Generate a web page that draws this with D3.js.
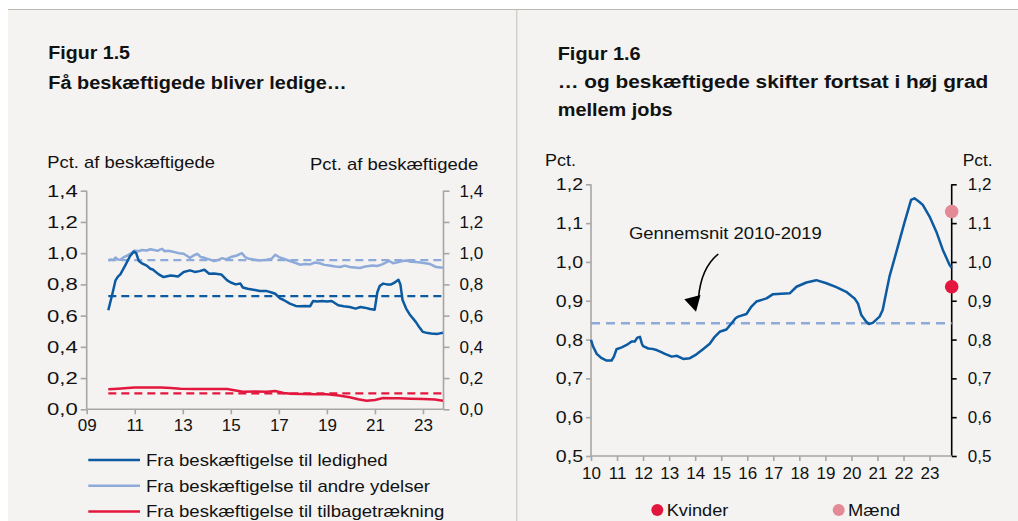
<!DOCTYPE html>
<html><head><meta charset="utf-8">
<script src="https://cdn.jsdelivr.net/npm/d3@7"></script>
<style>
html,body{margin:0;padding:0;background:#fff;}
svg{display:block;font-family:"Liberation Sans",Arial,sans-serif;}
</style></head><body>
<svg id="c" width="1018" height="521"></svg>
<script>
// ---------- DATA ----------
// Figur 1.5 (decimal year, pct. of employed)
const ledighedT = [2009.9,2010.07,2010.2,2010.3,2010.4,2010.6,2010.8,2010.96,2011.06,2011.17,2011.3,2011.5,2011.65,2011.75,2012.0,2012.2,2012.5,2012.6,2012.8,2013.04,2013.3,2013.5,2013.7,2013.9,2014.1,2014.3,2014.6,2014.85,2015.0,2015.2,2015.4,2015.5,2015.7,2015.94,2016.2,2016.5,2016.7,2016.85,2017.05,2017.2,2017.46,2017.7,2017.88,2018.1,2018.3,2018.43,2018.6,2018.8,2019.0,2019.2,2019.47,2019.7,2019.95,2020.2,2020.4,2020.57,2020.8,2020.99,2021.1,2021.2,2021.34,2021.5,2021.68,2021.85,2021.98,2022.06,2022.15,2022.3,2022.44,2022.7,2022.85,2022.99,2023.2,2023.34,2023.6,2023.83];
const ledighedV = [0.634,0.74,0.826,0.85,0.864,0.92,0.98,1.01,1.0,0.95,0.935,0.92,0.9,0.895,0.864,0.847,0.857,0.855,0.85,0.879,0.89,0.88,0.885,0.894,0.868,0.87,0.864,0.826,0.812,0.80,0.805,0.78,0.772,0.766,0.758,0.757,0.748,0.74,0.71,0.70,0.677,0.662,0.66,0.662,0.66,0.694,0.69,0.693,0.69,0.694,0.666,0.66,0.655,0.645,0.655,0.651,0.642,0.638,0.75,0.79,0.805,0.80,0.80,0.815,0.83,0.80,0.70,0.645,0.609,0.56,0.525,0.496,0.488,0.485,0.483,0.49];
const ydelserT = [2009.9,2010.0,2010.1,2010.2,2010.3,2010.4,2010.55,2010.7,2010.85,2011.0,2011.15,2011.3,2011.5,2011.65,2011.8,2011.95,2012.05,2012.14,2012.25,2012.4,2012.55,2012.7,2012.85,2013.04,2013.2,2013.3,2013.45,2013.6,2013.75,2013.9,2014.1,2014.3,2014.5,2014.65,2014.8,2015.0,2015.25,2015.46,2015.6,2015.75,2016.0,2016.2,2016.5,2016.7,2016.85,2017.0,2017.2,2017.45,2017.65,2017.88,2018.1,2018.3,2018.5,2018.7,2018.9,2019.1,2019.35,2019.55,2019.75,2019.95,2020.15,2020.37,2020.6,2020.9,2021.1,2021.3,2021.45,2021.6,2021.75,2021.9,2022.1,2022.3,2022.5,2022.7,2022.9,2023.1,2023.3,2023.55,2023.83];
const ydelserV = [0.953,0.96,0.955,0.972,0.96,0.958,0.975,0.985,1.0,1.017,1.012,1.02,1.017,1.025,1.02,1.015,1.022,1.028,1.012,1.015,1.01,1.005,1.0,0.996,0.98,0.97,0.985,0.996,0.975,0.97,0.96,0.95,0.958,0.968,0.96,0.975,0.985,1.0,0.975,0.964,0.958,0.953,0.958,0.964,0.99,0.975,0.964,0.95,0.94,0.926,0.93,0.928,0.94,0.935,0.925,0.921,0.915,0.911,0.92,0.911,0.908,0.905,0.915,0.921,0.918,0.928,0.94,0.95,0.936,0.94,0.948,0.953,0.945,0.943,0.94,0.936,0.93,0.911,0.907];
const tilbageT = [2009.9,2010.3,2010.7,2011.0,2011.5,2012.1,2012.5,2012.9,2013.5,2014.2,2014.85,2015.2,2015.5,2016.0,2016.5,2016.85,2017.2,2017.5,2018.0,2018.5,2019.0,2019.5,2019.95,2020.3,2020.65,2021.0,2021.34,2021.7,2022.0,2022.5,2023.0,2023.5,2023.83];
const tilbageV = [0.128,0.132,0.137,0.14,0.14,0.14,0.136,0.132,0.13,0.13,0.13,0.12,0.112,0.114,0.112,0.117,0.105,0.099,0.098,0.097,0.096,0.088,0.077,0.064,0.055,0.06,0.072,0.071,0.07,0.068,0.066,0.062,0.055];
const avg15Names = ["ledighed","ydelser","tilbage"];
const avg15Values = [0.725,0.955,0.102];
const avg15Period = [2009.9,2023.85];
const xTicks15 = [2009,2011,2013,2015,2017,2019,2021,2023];
const yTicks15 = [0,0.2,0.4,0.6,0.8,1.0,1.2,1.4];
const legend15 = ["Fra beskæftigelse til ledighed","Fra beskæftigelse til andre ydelser","Fra beskæftigelse til tilbagetrækning"];

// Figur 1.6
const jobT = [2010.0,2010.08,2010.22,2010.41,2010.6,2010.79,2010.88,2010.98,2011.18,2011.37,2011.56,2011.68,2011.78,2011.88,2011.95,2012.0,2012.2,2012.35,2012.52,2012.68,2012.84,2013.1,2013.3,2013.54,2013.8,2014.05,2014.3,2014.56,2014.75,2014.94,2015.2,2015.4,2015.55,2015.65,2015.97,2016.16,2016.35,2016.74,2016.99,2017.3,2017.63,2017.89,2018.27,2018.65,2019.04,2019.42,2019.8,2020.0,2020.12,2020.25,2020.38,2020.57,2020.67,2020.82,2021.08,2021.2,2021.33,2021.46,2021.71,2022.03,2022.29,2022.42,2022.6,2022.74,2023.0,2023.26,2023.51,2023.77,2023.85];
const jobV = [0.799,0.782,0.763,0.752,0.746,0.746,0.756,0.775,0.78,0.786,0.795,0.795,0.805,0.807,0.79,0.783,0.777,0.776,0.773,0.768,0.763,0.756,0.758,0.75,0.752,0.762,0.775,0.789,0.807,0.82,0.826,0.842,0.855,0.859,0.866,0.885,0.898,0.906,0.917,0.918,0.919,0.936,0.947,0.953,0.945,0.935,0.923,0.912,0.906,0.893,0.863,0.846,0.84,0.843,0.859,0.876,0.919,0.962,1.022,1.1,1.16,1.164,1.155,1.147,1.117,1.078,1.031,0.992,0.985];
const avg16 = 0.842;
const avg16Period = [2010,2023.85];
const dotNames = ["Kvinder","Mænd"];
const dotValues = [0.936,1.13];
const xTicks16 = [2010,2011,2012,2013,2014,2015,2016,2017,2018,2019,2020,2021,2022,2023];
const yTicks16 = [0.5,0.6,0.7,0.8,0.9,1.0,1.1,1.2];

// ---------- STYLE ----------
const C = {bg:"#f4f3f1", dark:"#0b5aa2", light:"#8eaad9", red:"#e3173e", pink:"#e38a96", axis:"#a6a6a6", text:"#111"};
const svg = d3.select("#c");
const fmt = d3.format(".1f");
const comma = v => fmt(v).replace(".", ",");

svg.append("rect").attr("x",0).attr("y",0).attr("width",1018).attr("height",521).attr("fill","#fff");
svg.append("rect").attr("x",8).attr("y",9.5).attr("width",1010).attr("height",512).attr("fill",C.bg);
svg.append("line").attr("x1",8).attr("x2",1018).attr("y1",9.5).attr("y2",9.5).attr("stroke","#bdb9b4").attr("stroke-width",1);
svg.append("line").attr("x1",516.8).attr("x2",516.8).attr("y1",9.5).attr("y2",521).attr("stroke","#c3bfba").attr("stroke-width",1);

function txt(x,y,s,opt={}){
  const t = svg.append("text").attr("x",x).attr("y",y).text(s)
    .attr("font-size",opt.size||17).attr("fill",C.text)
    .attr("font-weight",opt.bold?"bold":"normal")
    .attr("text-anchor",opt.anchor||"start");
  if(opt.len){ t.attr("textLength",opt.len).attr("lengthAdjust","spacingAndGlyphs"); }
  return t;
}
function stretch(sel, sx){
  sel.each(function(){
    const el = d3.select(this);
    const x = +el.attr("x")||0;
    el.attr("transform",`translate(${x},0) scale(${sx},1) translate(${-x},0)`);
  });
}

// ---------- FIGUR 1.5 ----------
txt(48.3,59.3,"Figur 1.5",{bold:true,size:18,len:81.7});
txt(48.3,89.3,"Få beskæftigede bliver ledige…",{bold:true,size:18,len:298.4});
txt(47.3,168.3,"Pct. af beskæftigede",{len:167.7});
txt(310,170,"Pct. af beskæftigede",{len:168.3});

const x15 = d3.scaleLinear().domain([2009,2023.855]).range([86.7,443.5]);
const y15 = d3.scaleLinear().domain([0,1.4]).range([409.3,190.7]);

const axL = svg.append("g").attr("transform","translate(86.7,0)")
  .call(d3.axisLeft(y15).tickValues(yTicks15).tickFormat(comma).tickSize(6).tickPadding(3));
const axR = svg.append("g").attr("transform","translate(443.5,0)")
  .call(d3.axisRight(y15).tickValues(yTicks15).tickFormat(comma).tickSize(6).tickPadding(10));
const axB = svg.append("g").attr("transform","translate(0,409.3)")
  .call(d3.axisBottom(x15).tickValues(xTicks15).tickFormat(d=>d3.format("02d")(d%100)).tickSize(5).tickPadding(5));
[axL,axR,axB].forEach(a=>{
  a.select(".domain").attr("stroke",C.axis).attr("stroke-width",1.6);
  a.selectAll(".tick line").attr("stroke",C.axis).attr("stroke-width",1.6);
  a.selectAll("text").attr("font-size",17).attr("fill",C.text).attr("font-family","Liberation Sans, Arial, sans-serif");
});
axL.select(".domain").attr("d","M0,409.3V190.7");
axR.select(".domain").attr("d","M0,409.3V190.7");
axB.select(".domain").attr("d","M86.7,0H443.5");
stretch(axL.selectAll("text"),1.3);

const line15 = d3.line().x(d=>x15(d[0])).y(d=>y15(d[1]));
const avgColors = {ledighed:C.dark, ydelser:C.light, tilbage:C.red};
avg15Names.forEach((n,i)=>{
  svg.append("path").attr("d",line15(avg15Period.map(t=>[t,avg15Values[i]])))
    .attr("fill","none").attr("stroke",avgColors[n]).attr("stroke-width",2.3).attr("stroke-dasharray","8,5");
});
svg.append("path").attr("d",line15(tilbageT.map((t,i)=>[t,tilbageV[i]]))).attr("fill","none").attr("stroke",C.red).attr("stroke-width",2.5);
svg.append("path").attr("d",line15(ydelserT.map((t,i)=>[t,ydelserV[i]]))).attr("fill","none").attr("stroke",C.light).attr("stroke-width",2.5).attr("stroke-linejoin","round");
svg.append("path").attr("d",line15(ledighedT.map((t,i)=>[t,ledighedV[i]]))).attr("fill","none").attr("stroke",C.dark).attr("stroke-width",2.5).attr("stroke-linejoin","round");

const legCols = [C.dark,C.light,C.red];
const legLens = [241.7,284,298.3];
legend15.forEach((s,i)=>{
  const y = 460 + i*25.7;
  svg.append("line").attr("x1",88.3).attr("x2",140).attr("y1",y).attr("y2",y).attr("stroke",legCols[i]).attr("stroke-width",2.5);
  txt(146,y+6,s,{len:legLens[i]});
});

// ---------- FIGUR 1.6 ----------
txt(557.7,60,"Figur 1.6",{bold:true,size:18,len:83});
txt(557.7,88.3,"… og beskæftigede skifter fortsat i høj grad",{bold:true,size:18,len:430.6});
txt(557.7,116,"mellem jobs",{bold:true,size:18,len:115});
txt(545,166,"Pct.",{len:31});
txt(992.7,166,"Pct.",{anchor:"end",len:30});

const x16 = d3.scaleLinear().domain([2010,2023.85]).range([591,951.7]);
const y16 = d3.scaleLinear().domain([0.5,1.2]).range([456,184.3]);

const bL = svg.append("g").attr("transform","translate(591,0)")
  .call(d3.axisLeft(y16).tickValues(yTicks16).tickFormat(comma).tickSize(5).tickPadding(3));
const bR = svg.append("g").attr("transform","translate(951.7,0)")
  .call(d3.axisRight(y16).tickValues(yTicks16).tickFormat(comma).tickSize(5).tickPadding(11));
const bB = svg.append("g").attr("transform","translate(0,456)")
  .call(d3.axisBottom(x16).tickValues(xTicks16).tickFormat(d=>String(d%100)).tickSize(5).tickPadding(6));
[bL,bB].forEach(a=>{
  a.select(".domain").attr("stroke",C.axis).attr("stroke-width",1.6);
  a.selectAll(".tick line").attr("stroke",C.axis).attr("stroke-width",1.6);
});
bR.select(".domain").attr("stroke","#000").attr("stroke-width",1.6);
bR.selectAll(".tick line").attr("stroke","#000").attr("stroke-width",1.6);
[bL,bR,bB].forEach(a=>a.selectAll("text").attr("font-size",17).attr("fill",C.text).attr("font-family","Liberation Sans, Arial, sans-serif"));
bL.select(".domain").attr("d","M0,456V184.3");
bR.select(".domain").attr("d","M0,456V184.3");
bB.select(".domain").attr("d","M591,0H951.7");
stretch(bL.selectAll("text"),1.15);

const line16 = d3.line().x(d=>x16(d[0])).y(d=>y16(d[1]));
svg.append("path").attr("d",line16(avg16Period.map(t=>[t,avg16]))).attr("fill","none")
  .attr("stroke",C.light).attr("stroke-width",2.3).attr("stroke-dasharray","9,6");
svg.append("path").attr("d",line16(jobT.map((t,i)=>[t,jobV[i]]))).attr("fill","none")
  .attr("stroke",C.dark).attr("stroke-width",2.5).attr("stroke-linejoin","round");

const dotCols = [C.red,C.pink];
dotValues.forEach((v,i)=>{
  svg.append("circle").attr("cx",x16(2023.85)).attr("cy",y16(v)).attr("r",6.8).attr("fill",dotCols[i]);
});

// annotation
txt(629,239,"Gennemsnit 2010-2019",{len:192.7});
svg.append("path").attr("d","M718.3,254 Q701,268 698.5,298").attr("fill","none").attr("stroke","#000").attr("stroke-width",1.6);
svg.append("path").attr("d","M684.3,299.3 L696,311.7 L700.5,295 Z").attr("fill","#000");

// legend 1.6
const dotLegX = [657.3,838.7];
const dotLegLen = [61.7,52];
dotNames.forEach((n,i)=>{
  svg.append("circle").attr("cx",dotLegX[i]).attr("cy",510).attr("r",6).attr("fill",dotCols[i]);
  txt(dotLegX[i]+9.4,516,n,{len:dotLegLen[i]});
});
</script>
</body></html>
